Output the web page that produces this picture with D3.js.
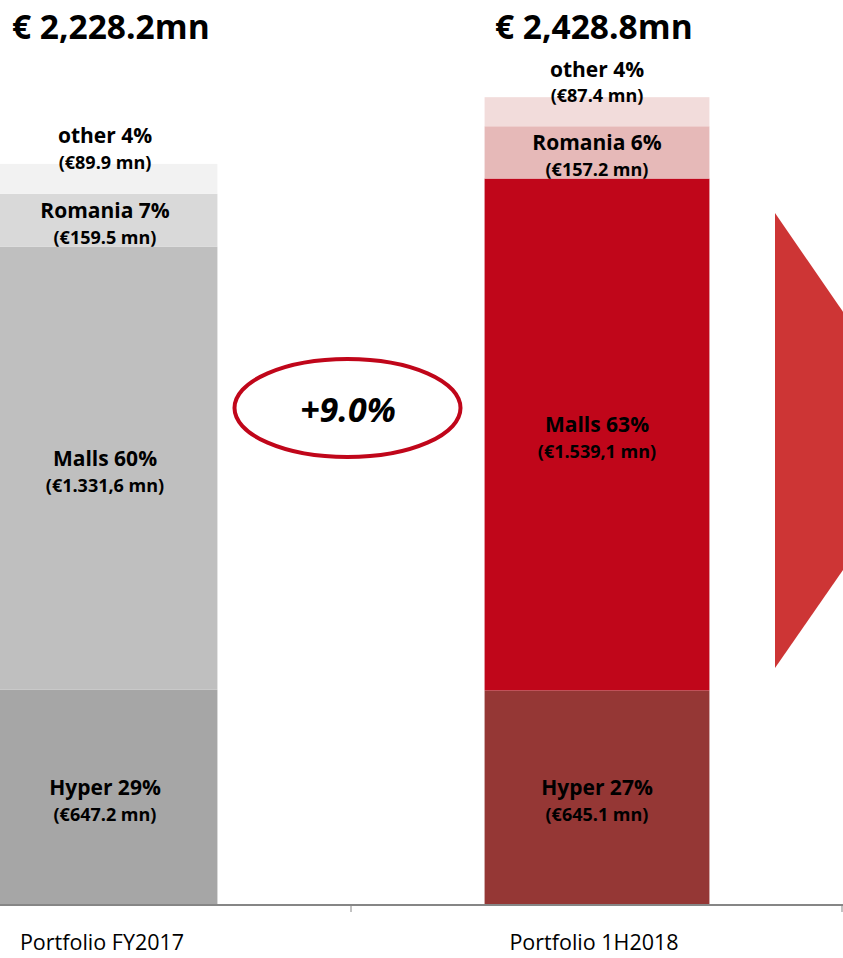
<!DOCTYPE html>
<html>
<head>
<meta charset="utf-8">
<script src="https://cdn.jsdelivr.net/npm/d3@7/dist/d3.min.js"></script>
<style>
  html, body { margin: 0; padding: 0; background: #fff; }
  svg { display: block; }
  text { font-family: "Open Sans", Lato, sans-serif; }
</style>
</head>
<body>
<div id="chart"></div>
<script>
// ---- data ----
const categories = ["Portfolio FY2017", "Portfolio 1H2018"];
const segments = ["Hyper", "Malls", "Romania", "other"];
const valuesFY2017 = [647.2, 1331.6, 159.5, 89.9];
const values1H2018 = [645.1, 1539.1, 157.2, 87.4];
const pctFY2017 = ["29%", "60%", "7%", "4%"];
const pct1H2018 = ["27%", "63%", "6%", "4%"];
const amountFY2017 = ["(€647.2 mn)", "(€1.331,6 mn)", "(€159.5 mn)", "(€89.9 mn)"];
const amount1H2018 = ["(€645.1 mn)", "(€1.539,1 mn)", "(€157.2 mn)", "(€87.4 mn)"];
const totals = ["€ 2,228.2mn", "€ 2,428.8mn"];
const growthLabel = "+9.0%";

const colorsFY2017 = ["#A6A6A6", "#BFBFBF", "#D9D9D9", "#F2F2F2"];
const colors1H2018 = ["#953735", "#C0061A", "#E6B9B8", "#F2DCDB"];

const W = 843, H = 958;
const svg = d3.select("#chart").append("svg").attr("width", W).attr("height", H);

const x = d3.scaleBand().domain(categories).range([-141, 843]).paddingInner(0.543).paddingOuter(0.2715);
const y = d3.scaleLinear().domain([0, 2500]).range([905, 905 - 2500 * 0.3326]);

const series = [
  { cat: categories[0], values: valuesFY2017, pct: pctFY2017, amt: amountFY2017, colors: colorsFY2017, total: totals[0] },
  { cat: categories[1], values: values1H2018, pct: pct1H2018, amt: amount1H2018, colors: colors1H2018, total: totals[1] }
];

// arrow shape at right (decorative chevron)
svg.append("polygon")
  .attr("points", [[775, 213], [850, 322], [850, 560], [775, 668]].map(p => p.join(",")).join(" "))
  .attr("fill", "#CD3535");

series.forEach(s => {
  const stack = [];
  let acc = 0;
  s.values.forEach((v, i) => { stack.push({ y0: acc, y1: acc + v, i }); acc += v; });
  const g = svg.append("g");
  g.selectAll("rect").data(stack).enter().append("rect")
    .attr("x", x(s.cat))
    .attr("width", x.bandwidth())
    .attr("y", d => y(d.y1))
    .attr("height", d => y(d.y0) - y(d.y1))
    .attr("fill", d => s.colors[d.i]);

  const cx = x(s.cat) + x.bandwidth() / 2;
  stack.forEach(d => {
    let y1, y2;
    if (segments[d.i] === "other") {
      y1 = y(d.y1) - 28; y2 = y(d.y1) - 1;
    } else {
      const mid = (y(d.y0) + y(d.y1)) / 2;
      y1 = mid - 10; y2 = mid + 17;
    }
    g.append("text").attr("x", cx).attr("y", y1).attr("dy", "0.35em")
      .attr("text-anchor", "middle").attr("font-weight", "bold").attr("font-size", 21)
      .attr("fill", "#000").text(segments[d.i] + " " + s.pct[d.i]);
    g.append("text").attr("x", cx).attr("y", y2).attr("dy", "0.35em")
      .attr("text-anchor", "middle").attr("font-weight", "bold").attr("font-size", 18)
      .attr("fill", "#000").text(s.amt[d.i]);
  });
});

// totals
svg.append("text").attr("x", 12).attr("y", 27).attr("dy", "0.35em")
  .attr("font-weight", "bold").attr("font-size", 33.5).text(totals[0]);
svg.append("text").attr("x", 495).attr("y", 27).attr("dy", "0.35em")
  .attr("font-weight", "bold").attr("font-size", 33.5).text(totals[1]);

// axis
const axis = svg.append("g");
axis.append("line").attr("x1", 0).attr("x2", W).attr("y1", 905).attr("y2", 905)
  .attr("stroke", "#868686").attr("stroke-width", 2);
[x(categories[1]) - x.step() * x.paddingInner() / 2, W - 1].forEach(t => {
  axis.append("line").attr("x1", t).attr("x2", t).attr("y1", 905).attr("y2", 912)
    .attr("stroke", "#868686").attr("stroke-width", 1);
});
categories.forEach(c => {
  axis.append("text").attr("x", x(c) + x.bandwidth() / 2 - 3).attr("y", 942).attr("dy", "0.35em")
    .attr("text-anchor", "middle").attr("font-size", 21.5).attr("fill", "#000").text(c);
});

// growth ellipse
svg.append("ellipse").attr("cx", 347.5).attr("cy", 408).attr("rx", 113).attr("ry", 49)
  .attr("fill", "none").attr("stroke", "#C0061A").attr("stroke-width", 4);
svg.append("text").attr("x", 348).attr("y", 410).attr("dy", "0.35em")
  .attr("text-anchor", "middle").attr("font-weight", "bold").attr("font-style", "italic")
  .attr("font-size", 34).text(growthLabel);
</script>
</body>
</html>
